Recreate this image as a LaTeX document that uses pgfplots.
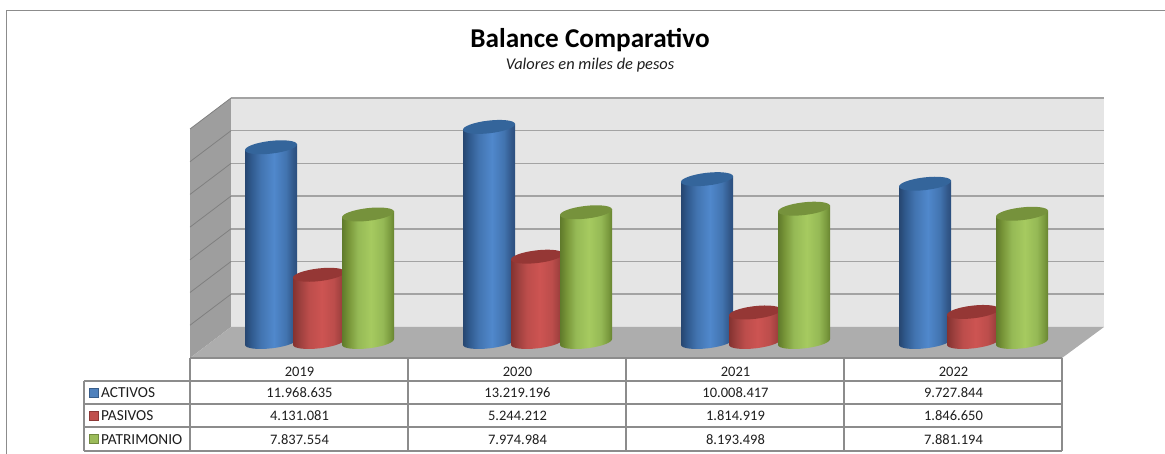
\documentclass[border=0pt]{standalone}
\usepackage{pgfplots}
\usepackage{pgfplotstable}
\usepackage{fontspec}
\setmainfont{Carlito}
\pgfplotsset{compat=1.18}
\definecolor{gridc}{HTML}{A3A3A3}
\definecolor{tabc}{HTML}{8C8C8C}
\definecolor{txt}{HTML}{1E1E1E}
\definecolor{b0}{HTML}{264670}\definecolor{b1}{HTML}{305A8E}\definecolor{b2}{HTML}{4274B0}\definecolor{b3}{HTML}{5088CC}\definecolor{b4}{HTML}{32588A}\definecolor{b5}{HTML}{2A4D7C}
\definecolor{r0}{HTML}{843230}\definecolor{r1}{HTML}{9B3F3D}\definecolor{r2}{HTML}{BC4D4B}\definecolor{r3}{HTML}{CD5452}\definecolor{r4}{HTML}{9E403E}\definecolor{r5}{HTML}{8B3634}
\definecolor{g0}{HTML}{5F7A2B}\definecolor{g1}{HTML}{779438}\definecolor{g2}{HTML}{95B955}\definecolor{g3}{HTML}{A6CA60}\definecolor{g4}{HTML}{7A9A3E}\definecolor{g5}{HTML}{66822F}
\definecolor{bt}{HTML}{34659B}\definecolor{rt}{HTML}{953735}\definecolor{gt}{HTML}{76923C}
\definecolor{kbf}{HTML}{4F81BD}\definecolor{kbb}{HTML}{385D8A}
\definecolor{krf}{HTML}{C0504D}\definecolor{krb}{HTML}{8C3836}
\definecolor{kgf}{HTML}{9BBB59}\definecolor{kgb}{HTML}{71893F}
\pgfdeclarehorizontalshading{cylb}{100bp}{color(0bp)=(b0);color(25bp)=(b0);color(31bp)=(b1);color(40bp)=(b2);color(52.5bp)=(b3);color(64bp)=(b2);color(71bp)=(b4);color(75bp)=(b5);color(100bp)=(b5)}
\pgfdeclarehorizontalshading{cylr}{100bp}{color(0bp)=(r0);color(25bp)=(r0);color(31bp)=(r1);color(40bp)=(r2);color(52.5bp)=(r3);color(64bp)=(r2);color(71bp)=(r4);color(75bp)=(r5);color(100bp)=(r5)}
\pgfdeclarehorizontalshading{cylg}{100bp}{color(0bp)=(g0);color(25bp)=(g0);color(31bp)=(g1);color(40bp)=(g2);color(52.5bp)=(g3);color(64bp)=(g2);color(71bp)=(g4);color(75bp)=(g5);color(100bp)=(g5)}
% A cylinder drawn as a per-point mark: its height comes from the point's own value
% (the axis scale is 16.27e-6 pt per unit).
\newcommand{\cylinder}[2]{%
 \edef\cylh{\fpeval{\val*16.27e-6}pt}%
 \pgfpathmoveto{\pgfqpoint{26pt}{3pt}}%
 \pgfpathlineto{\pgfqpoint{26pt}{\dimexpr3pt-\cylh\relax}}%
 \pgfpathcurveto{\pgfqpoint{26.4pt}{\dimexpr-.48pt-\cylh\relax}}{\pgfqpoint{15.1pt}{\dimexpr-4.64pt-\cylh\relax}}{\pgfqpoint{.75pt}{\dimexpr-6.3pt-\cylh\relax}}%
 \pgfpathcurveto{\pgfqpoint{-13.6pt}{\dimexpr-7.96pt-\cylh\relax}}{\pgfqpoint{-25.6pt}{\dimexpr-6.48pt-\cylh\relax}}{\pgfqpoint{-26pt}{\dimexpr-3pt-\cylh\relax}}%
 \pgfpathlineto{\pgfqpoint{-26pt}{-3pt}}%
 \pgfpathclose
 \pgfshadepath{#1}{0}\pgfusepath{discard}%
 \pgfsetfillcolor{#2}%
 \pgfpathellipse{\pgfpointorigin}{\pgfqpoint{26pt}{3pt}}{\pgfqpoint{-0.75pt}{6.3pt}}\pgfusepathqfill}
\pgfdeclareplotmark{cylb}{\cylinder{cylb}{bt}}
\pgfdeclareplotmark{cylr}{\cylinder{cylr}{rt}}
\pgfdeclareplotmark{cylg}{\cylinder{cylg}{gt}}
\pgfplotstableread{
x ACTIVOS PASIVOS PATRIMONIO
0 11968635 4131081 7837554
1 13219196 5244212 7974984
2 10008417 1814919 8193498
3 9727844 1846650 7881194
}\datatable
\newcommand{\cyl}[3]{%
 \addplot[scatter,only marks,mark=#2,mark options={xshift=#3pt},visualization depends on={rawy\as\val}] table[x=x,y=#1]{\datatable};
}
\newcommand{\gridrow}[2]{%
 \draw[color=gridc,line width=1.5pt] (axis cs:231,#1)--(axis cs:1104,#1);
 \draw[color=black!50,line width=.8pt] (axis cs:190,#2)--(axis cs:231,#1);}
\newcommand{\hl}[2]{\draw[color=tabc,line width=1.2pt] (axis cs:#1,#2)--(axis cs:1062,#2);}
\newcommand{\vl}[1]{\draw[color=tabc,line width=1.2pt] (axis cs:#1,358)--(axis cs:#1,451);}
\newcommand{\trow}[5]{%
 \node[anchor=base,inner sep=0pt,font=\fontsize{14.5}{17}\selectfont,text=txt] at (axis cs:299.5,#1) {#2};
 \node[anchor=base,inner sep=0pt,font=\fontsize{14.5}{17}\selectfont,text=txt] at (axis cs:517.5,#1) {#3};
 \node[anchor=base,inner sep=0pt,font=\fontsize{14.5}{17}\selectfont,text=txt] at (axis cs:735.5,#1) {#4};
 \node[anchor=base,inner sep=0pt,font=\fontsize{14.5}{17}\selectfont,text=txt] at (axis cs:953.5,#1) {#5};}
\newcommand{\key}[6]{%
 \draw[fill=#4,draw=#5,line width=.8pt] (axis cs:89.5,#2) rectangle (axis cs:98,#3);
 \node[anchor=base west,inner sep=0pt,font=\fontsize{15.3}{17}\selectfont,text=txt] at (axis cs:101,#6) {#1};}
\begin{document}
\begin{tikzpicture}[x=1pt,y=1pt]
\path[use as bounding box] (0,0) rectangle (1165,454);
% frame, walls and table, in picture pixels
\begin{axis}[at={(0,0)},anchor=south west,scale only axis,width=1165pt,height=454pt,
 xmin=0,xmax=1165,ymin=0,ymax=454,y dir=reverse,hide axis,clip=false]
\draw[color=tabc,line width=1.2pt] (axis cs:1165,10.5)--(axis cs:6.5,10.5)--(axis cs:6.5,454);
\fill[color=black!38] (axis cs:190,129)--(axis cs:231,98)--(axis cs:231,327)--(axis cs:190,358)--cycle;
\fill[color=black!10] (axis cs:231,98) rectangle (axis cs:1104,327);
\fill[color=black!32] (axis cs:190,358)--(axis cs:231,327)--(axis cs:1104,327)--(axis cs:1062,358)--cycle;
\gridrow{98}{129}
\gridrow{130.7}{161.7}
\gridrow{163.4}{194.4}
\gridrow{196.1}{227.1}
\gridrow{228.8}{259.8}
\gridrow{261.5}{292.5}
\gridrow{294.2}{325.2}
\hl{190}{358}
\hl{190}{381}
\hl{84}{381}
\hl{84}{404}
\hl{84}{427}
\hl{84}{451}
\draw[color=tabc,line width=1.2pt] (axis cs:84,381)--(axis cs:84,451);
\vl{190}
\vl{408}
\vl{626}
\vl{844}
\vl{1062}
\node[anchor=base,inner sep=0pt,font=\fontsize{27.2}{30}\selectfont\bfseries,text=black] at (axis cs:590,48) {Balance Comparativo};
\node[anchor=base,inner sep=0pt,font=\fontsize{16.4}{18}\selectfont\itshape,text=txt] at (axis cs:590,70) {Valores en miles de pesos};
\key{ACTIVOS}{388}{397}{kbf}{kbb}{397.5}
\key{PASIVOS}{411}{420}{krf}{krb}{420.5}
\key{PATRIMONIO}{434.5}{443.5}{kgf}{kgb}{444}
\trow{377}{2019}{2020}{2021}{2022}
\trow{397.5}{11.968.635}{13.219.196}{10.008.417}{9.727.844}
\trow{420.5}{4.131.081}{5.244.212}{1.814.919}{1.846.650}
\trow{444}{7.837.554}{7.974.984}{8.193.498}{7.881.194}
\end{axis}
% the cylinders, from the data
\begin{axis}[at={(0,0)},anchor=south west,scale only axis,width=1165pt,height=454pt,
 xmin=-1.376147,xmax=3.967890,ymin=-6883835,ymax=21020283,hide axis,clip=false]
\cyl{ACTIVOS}{cylb}{-29}
\cyl{PASIVOS}{cylr}{19}
\cyl{PATRIMONIO}{cylg}{68}
\end{axis}
\end{tikzpicture}
\end{document}
